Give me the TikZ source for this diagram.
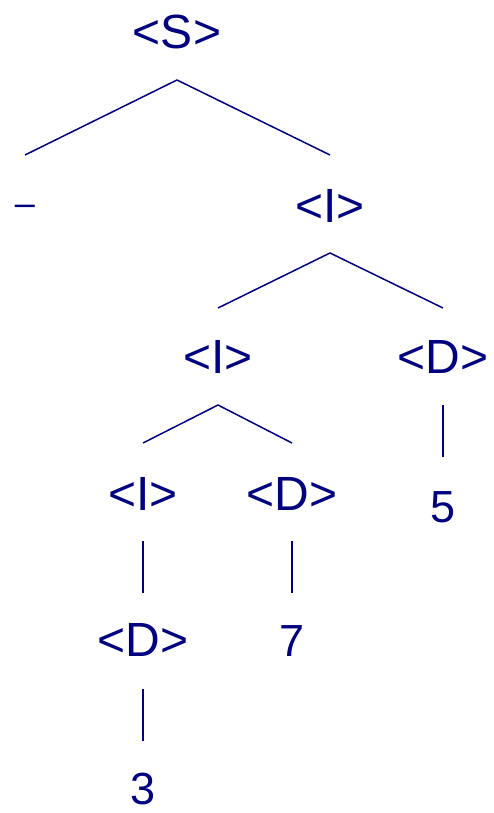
\documentclass[tikz,border=0pt]{standalone}
\usepackage{fontspec}
\setmainfont{Liberation Sans}
\definecolor{treeblue}{HTML}{000080}
\begin{document}
\begin{tikzpicture}[x=1pt,y=-1pt,
  sym/.style={anchor=base,inner sep=0pt,text=treeblue,font=\fontsize{48}{48}\selectfont},
  term/.style={anchor=base,inner sep=0pt,text=treeblue,font=\fontsize{45}{45}\selectfont},
  edge/.style={draw=treeblue,line width=1.5pt}]
\useasboundingbox (0,0) rectangle (494,813);
% nodes
\node[sym] (S) at (177,49) {<S>};
\node[anchor=base,inner sep=0pt,text=treeblue,font=\fontsize{36}{36}\selectfont] (minus) at (25,215) {–};
\node[sym] (I1) at (330,222) {<I>};
\node[sym] (I2) at (218,373) {<I>};
\node[sym] (D1) at (443,373) {<D>};
\node[sym] (I3) at (143,510) {<I>};
\node[sym] (D2) at (292,510) {<D>};
\node[term] (n5) at (443,522) {5};
\node[sym] (D3) at (143,656) {<D>};
\node[term] (n7) at (292,656) {7};
\node[term] (n3) at (143,804) {3};
% connector end points
\coordinate (Sa) at (177,80);
\coordinate (minusT) at (25,155);
\coordinate (I1T) at (330,155);
\coordinate (I1a) at (330,253);
\coordinate (I2T) at (218,308);
\coordinate (D1T) at (443,308);
\coordinate (I2a) at (218,405);
\coordinate (I3T) at (143,443);
\coordinate (D2T) at (292,443);
\coordinate (D1a) at (443,405);
\coordinate (n5T) at (443,457);
\coordinate (I3a) at (143,541);
\coordinate (D3T) at (143,593);
\coordinate (D2a) at (292,541);
\coordinate (n7T) at (292,593);
\coordinate (D3a) at (143,689);
\coordinate (n3T) at (143,741);
% connectors
\draw[edge] (minusT) -- (Sa) -- (I1T);
\draw[edge] (I2T) -- (I1a) -- (D1T);
\draw[edge] (I3T) -- (I2a) -- (D2T);
\draw[edge] (D1a) -- (n5T);
\draw[edge] (I3a) -- (D3T);
\draw[edge] (D2a) -- (n7T);
\draw[edge] (D3a) -- (n3T);
\end{tikzpicture}
\end{document}
